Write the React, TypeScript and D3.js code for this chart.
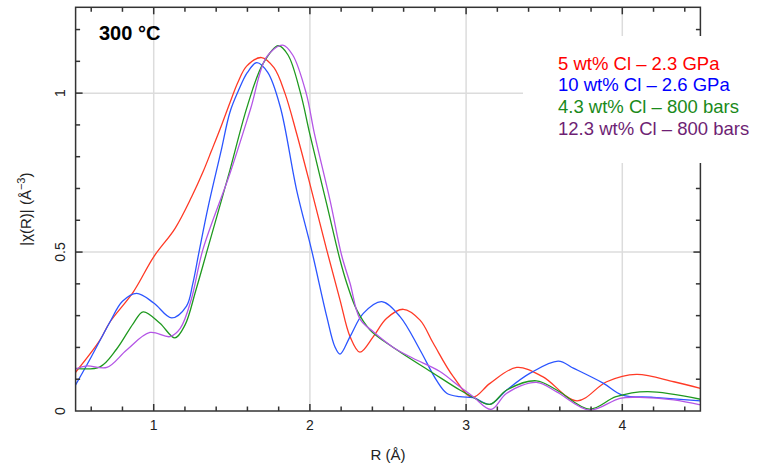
import React, { useEffect, useRef } from 'react';
import * as d3 from 'd3';

// |chi(R)| curves (R in Å, magnitude in Å^-3)
const r5wt = [0.5, 0.656, 0.72, 0.87, 1.0, 1.136, 1.243, 1.318, 1.371, 1.435, 1.488, 1.54, 1.595, 1.69, 1.77, 1.84, 1.915, 2.01, 2.108, 2.193, 2.257, 2.32, 2.406, 2.49, 2.598, 2.705, 2.79, 2.918, 3.04, 3.153, 3.324, 3.49, 3.71, 3.9, 4.09, 4.33, 4.5];
const chi5wt = [0.122, 0.223, 0.28, 0.375, 0.485, 0.574, 0.674, 0.755, 0.82, 0.9, 0.97, 1.035, 1.085, 1.112, 1.08, 1.0, 0.873, 0.695, 0.506, 0.349, 0.234, 0.185, 0.234, 0.291, 0.32, 0.286, 0.213, 0.108, 0.043, 0.087, 0.137, 0.108, 0.032, 0.092, 0.115, 0.092, 0.071];

const r10wt = [0.5, 0.6, 0.72, 0.8, 0.891, 1.0, 1.115, 1.21, 1.25, 1.29, 1.35, 1.43, 1.488, 1.54, 1.6, 1.66, 1.73, 1.81, 1.915, 2.011, 2.108, 2.16, 2.193, 2.257, 2.342, 2.46, 2.577, 2.705, 2.81, 2.876, 2.96, 3.046, 3.153, 3.26, 3.41, 3.59, 3.69, 3.88, 4.0, 4.2, 4.5];
const chi10wt = [0.082, 0.17, 0.28, 0.345, 0.37, 0.34, 0.293, 0.33, 0.4, 0.5, 0.645, 0.815, 0.94, 1.005, 1.065, 1.096, 1.065, 0.957, 0.695, 0.506, 0.297, 0.202, 0.179, 0.234, 0.307, 0.344, 0.297, 0.192, 0.097, 0.056, 0.045, 0.042, 0.021, 0.066, 0.119, 0.157, 0.134, 0.087, 0.05, 0.043, 0.032];

const r43wt = [0.5, 0.656, 0.763, 0.87, 0.933, 1.04, 1.136, 1.2, 1.27, 1.343, 1.488, 1.6, 1.7, 1.798, 1.86, 1.94, 2.0, 2.108, 2.193, 2.236, 2.3, 2.385, 2.534, 2.79, 2.96, 3.046, 3.153, 3.26, 3.45, 3.58, 3.79, 3.96, 4.16, 4.5];
const chi43wt = [0.134, 0.139, 0.195, 0.276, 0.312, 0.276, 0.23, 0.27, 0.38, 0.506, 0.758, 0.96, 1.093, 1.149, 1.12, 1.0, 0.87, 0.65, 0.475, 0.402, 0.318, 0.255, 0.2, 0.119, 0.066, 0.043, 0.021, 0.066, 0.095, 0.066, 0.006, 0.045, 0.061, 0.037];

const r123wt = [0.5, 0.571, 0.7, 0.827, 0.976, 1.104, 1.17, 1.24, 1.314, 1.488, 1.62, 1.723, 1.826, 1.89, 1.976, 2.03, 2.13, 2.203, 2.257, 2.32, 2.406, 2.534, 2.66, 2.83, 2.96, 3.046, 3.16, 3.26, 3.45, 3.58, 3.79, 3.985, 4.11, 4.33, 4.5];
const chi123wt = [0.132, 0.142, 0.137, 0.192, 0.247, 0.234, 0.26, 0.35, 0.506, 0.747, 0.95, 1.114, 1.151, 1.12, 1.0, 0.87, 0.66, 0.49, 0.402, 0.29, 0.249, 0.2, 0.166, 0.125, 0.076, 0.045, 0.005, 0.056, 0.09, 0.06, 0.003, 0.04, 0.043, 0.035, 0.019];

const legendLabels = ['5 wt% Cl – 2.3 GPa', '10 wt% Cl – 2.6 GPa', '4.3 wt% Cl – 800 bars', '12.3 wt% Cl – 800 bars'];
const lineColors = ['#ff3a26', '#2b55ff', '#1f991f', '#b456e6'];
const legendColors = ['#ff0000', '#0000ff', '#1a8a1a', '#6e1f74'];

const xTicks = [1, 2, 3, 4];
const yTicks = [0, 0.5, 1];

const App = () => {
    const chartRef = useRef(null);

    useEffect(() => {
        const width = 765;
        const height = 466;
        const margin = { top: 7.3, right: 64.6, bottom: 55, left: 75.6 };
        const font = '"Liberation Sans", Arial, sans-serif';

        d3.select(chartRef.current).selectAll('*').remove();

        const svg = d3
            .select(chartRef.current)
            .append('svg')
            .attr('width', width)
            .attr('height', height)
            .style('position', 'absolute')
            .style('left', 0)
            .style('top', 0)
            .style('background', '#fff');

        const x = d3.scaleLinear().domain([0.5, 4.5]).range([margin.left, width - margin.right]);
        const y = d3.scaleLinear().domain([0, 1.27]).range([411, margin.top]);
        const [x0, x1] = x.range();
        const [yb, yt] = y.range();

        svg
            .append('clipPath')
            .attr('id', 'plot-clip')
            .append('rect')
            .attr('x', x0)
            .attr('y', yt)
            .attr('width', x1 - x0)
            .attr('height', yb - yt);

        // grid
        const grid = svg.append('g').attr('stroke', '#dcdcdc').attr('stroke-width', 1.5);
        xTicks.forEach((t) => {
            grid.append('line').attr('x1', x(t)).attr('x2', x(t)).attr('y1', yb).attr('y2', yt);
        });
        [0.5, 1].forEach((t) => {
            grid.append('line').attr('x1', x0).attr('x2', x1).attr('y1', y(t)).attr('y2', y(t));
        });

        // curves
        const series = [
            [r5wt, chi5wt],
            [r10wt, chi10wt],
            [r43wt, chi43wt],
            [r123wt, chi123wt],
        ];
        const line = d3
            .line()
            .x((d) => x(d[0]))
            .y((d) => y(d[1]))
            .curve(d3.curveCatmullRom.alpha(0.5));

        const curves = svg.append('g').attr('clip-path', 'url(#plot-clip)');
        series.forEach(([rs, vs], i) => {
            const pts = rs.map((r, j) => [r, vs[j]]);
            curves
                .append('path')
                .datum(pts)
                .attr('d', line)
                .attr('fill', 'none')
                .attr('stroke', lineColors[i])
                .attr('stroke-width', 1.3);
        });

        // frame with inward ticks on all sides
        const axisColor = '#333';
        const frame = svg.append('g').attr('stroke', axisColor).attr('stroke-width', 1.5);
        frame.append('rect').attr('x', x0).attr('y', yt).attr('width', x1 - x0).attr('height', yb - yt).attr('fill', 'none');

        d3.range(0.6, 4.5, 0.2).forEach((t) => {
            const major = Math.abs(t - Math.round(t)) < 1e-6;
            const len = major ? 7 : 4.5;
            frame.append('line').attr('x1', x(t)).attr('x2', x(t)).attr('y1', yb).attr('y2', yb - len);
            frame.append('line').attr('x1', x(t)).attr('x2', x(t)).attr('y1', yt).attr('y2', yt + len);
        });
        d3.range(0.1, 1.25, 0.1).forEach((t) => {
            const major = Math.abs(t * 2 - Math.round(t * 2)) < 1e-6;
            const len = major ? 7 : 4.5;
            frame.append('line').attr('x1', x0).attr('x2', x0 + len).attr('y1', y(t)).attr('y2', y(t));
            frame.append('line').attr('x1', x1).attr('x2', x1 - len).attr('y1', y(t)).attr('y2', y(t));
        });

        // tick labels
        svg
            .append('g')
            .selectAll('text')
            .data(xTicks)
            .enter()
            .append('text')
            .attr('x', (d) => x(d))
            .attr('y', 430)
            .attr('text-anchor', 'middle')
            .attr('font-family', font)
            .attr('font-size', 14)
            .attr('fill', '#222')
            .text((d) => d);

        svg
            .append('g')
            .selectAll('text')
            .data(yTicks)
            .enter()
            .append('text')
            .attr('transform', (d) => `translate(65, ${y(d)}) rotate(-90)`)
            .attr('text-anchor', 'middle')
            .attr('font-family', font)
            .attr('font-size', 14)
            .attr('fill', '#222')
            .text((d) => d);

        // axis titles
        svg
            .append('text')
            .attr('x', (x0 + x1) / 2)
            .attr('y', 460)
            .attr('text-anchor', 'middle')
            .attr('font-family', font)
            .attr('font-size', 15)
            .attr('fill', '#222')
            .text('R (Å)');

        const yTitle = svg
            .append('text')
            .attr('transform', `translate(31, ${(yb + yt) / 2}) rotate(-90)`)
            .attr('text-anchor', 'middle')
            .attr('font-family', font)
            .attr('font-size', 15)
            .attr('fill', '#222');
        yTitle.append('tspan').text('|χ(R)| (Å');
        yTitle.append('tspan').attr('dy', -6).attr('font-size', 11).text('−3');
        yTitle.append('tspan').attr('dy', 6).text(')');

        // title
        svg
            .append('text')
            .attr('x', 99)
            .attr('y', 40)
            .attr('font-family', font)
            .attr('font-size', 20)
            .attr('font-weight', 'bold')
            .attr('fill', '#000')
            .text('300 °C');

        // legend box (white, covers grid and right axis)
        svg.append('rect').attr('x', 523).attr('y', 36).attr('width', width - 523).attr('height', 127).attr('fill', '#fff');

        svg
            .append('g')
            .selectAll('text')
            .data(legendLabels)
            .enter()
            .append('text')
            .attr('x', 558)
            .attr('y', (d, i) => 69.5 + i * 21.7)
            .attr('font-family', font)
            .attr('font-size', 18.5)
            .attr('fill', (d, i) => legendColors[i])
            .text((d) => d);
    }, []);

    return <div ref={chartRef}></div>;
};

export default App;
